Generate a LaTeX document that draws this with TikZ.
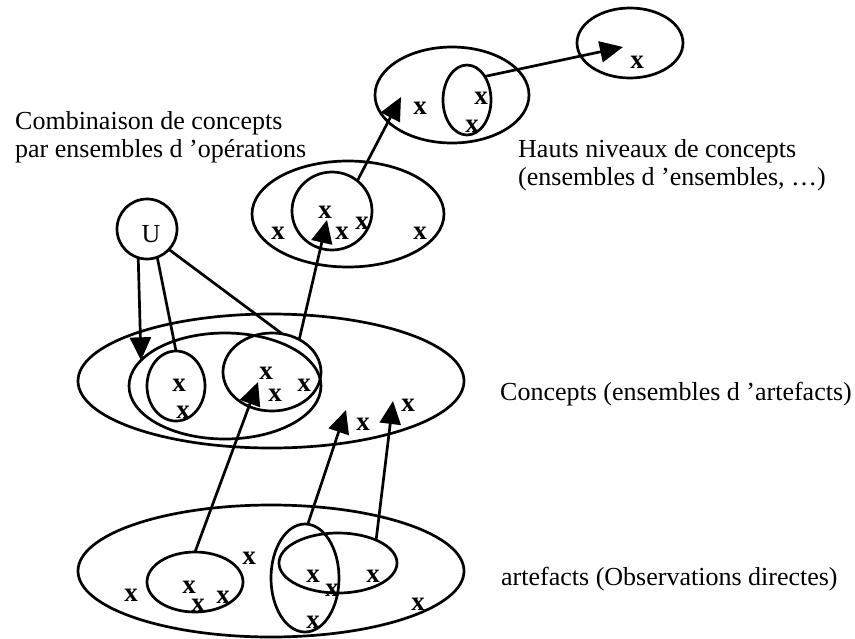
\documentclass[tikz,border=0pt]{standalone}
\usepackage{fontspec}
\setmainfont{Liberation Serif}
\usetikzlibrary{shapes.geometric,arrows.meta}

\begin{document}
\begin{tikzpicture}[x=1pt,y=-1pt,
  set/.style={draw,ellipse,line width=2.7pt,inner sep=0pt,outer sep=0pt},
  elt/.style={font=\fontsize{27}{28}\selectfont\bfseries,inner sep=0pt},
  lbl/.style={font=\fontsize{26}{28}\selectfont,anchor=base west,inner sep=0pt},
  link/.style={line width=2.7pt},
  arr/.style={link,-{Triangle[length=23pt,width=21pt]}}]
\useasboundingbox (0,0) rectangle (855,638);

% ---- level 4: higher-level concept
\node[set,minimum width=106,minimum height=70] (E4) at (630,43) {};

% ---- level 3: sets of sets
\node[set,minimum width=154,minimum height=96] (E3) at (452,95) {};
\node[set,minimum width=48,minimum height=70] (I3) at (467,100) {};

% ---- level 2: combinations of concepts
\node[set,minimum width=192,minimum height=106] (E2) at (348,214) {};
\node[set,minimum width=80,minimum height=78] (I2) at (332,211) {};

% ---- operator U
\node[draw,circle,line width=2.7pt,minimum size=60,inner sep=0pt,outer sep=0pt] (U) at (147,229) {};
\node[font=\fontsize{26}{28}\selectfont,inner sep=0pt] (Ut) at (151,234) {U};

% ---- level 1: concepts
\node[set,minimum width=386,minimum height=134] (E1) at (271,381) {};
\node[set,minimum width=192,minimum height=106] (M1) at (225,386) {};
\node[set,minimum width=58,minimum height=70] (Cs) at (176,386) {};
\node[set,minimum width=98,minimum height=78] (I1) at (272,372) {};

% ---- level 0: artefacts
\node[set,minimum width=386,minimum height=132] (E0) at (271,571) {};
\node[set,minimum width=96,minimum height=60] (B1) at (195,582) {};
\node[set,minimum width=68,minimum height=108] (T0) at (305,578) {};
\node[set,minimum width=118,minimum height=60] (F0) at (338,563) {};

% ---- elements
\foreach \px/\py [count=\i] in {
  637/62,
  420/108, 481/98, 472/126,
  325/212, 278/233, 342/233, 362/223, 420/233,
  179/385, 183/412, 266/373, 275/395, 304/385, 363/424, 408/405,
  249/558, 131/595, 189/587, 198/605, 223/597, 313/576, 332/590,
  373/576, 313/622, 418/604}
  \node[elt] (x\i) at (\px,\py) {x};

% ---- arrow targets inside the sets
\coordinate (t4) at (623,47);
\coordinate (t3) at (401,97);
\coordinate (t2) at (327,220);
\coordinate (t1a) at (258,382);
\coordinate (t1b) at (346,410);
\coordinate (t1c) at (393,401);

% ---- arrows between levels
\draw[arr] (I3.53) -- (t4);
\draw[arr] (I2.50) -- (t3);
\draw[arr] (I1.50) -- (t2);
\draw[arr] (B1.90) -- (t1a);
\draw[arr] (T0.87) -- (t1b);
\draw[arr] (F0.31) -- (t1c);

% ---- links of the operator U
\draw[arr] (U.-107.5) -- (M1.163.4);
\draw[link] (U.-70.5) -- (Cs.north);
\draw[link] (U.-43.5) -- (I1.75.3);

% ---- labels
\node[lbl] (c1) at (15,129) {Combinaison de concepts};
\node[lbl] (c2) at (15,157) {par ensembles d ’opérations};
\node[lbl] (h1) at (518,157) {Hauts niveaux de concepts};
\node[lbl] (h2) at (518,185) {(ensembles d ’ensembles, …)};
\node[lbl] (k1) at (500,400) {Concepts (ensembles d ’artefacts)};
\node[lbl] (a1) at (501,585) {artefacts (Observations directes)};
\end{tikzpicture}
\end{document}
